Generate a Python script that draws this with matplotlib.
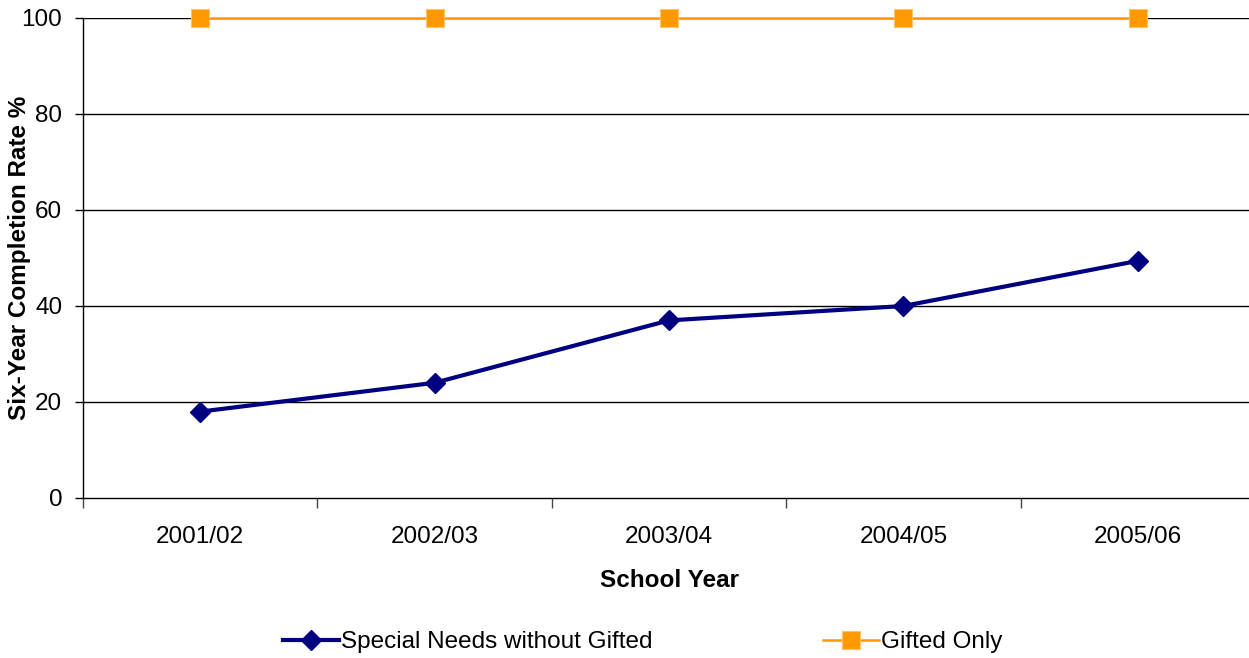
import matplotlib
matplotlib.use('Agg')
from matplotlib import pyplot as plt

plt.rcParams['font.family'] = ['Liberation Sans', 'DejaVu Sans']

##### DATA
years = ['2001/02', '2002/03', '2003/04', '2004/05', '2005/06']
special_needs = [18, 24, 37, 40, 49.4]
gifted_only = [100, 100, 100, 100, 100]
y_ticks = [0, 20, 40, 60, 80, 100]
##############

W, H = 1249, 658
FS = 17.5
fig = plt.figure(figsize=(W / 100, H / 100), dpi=100)
# plot area runs a bit past the right edge, like the original
ax = fig.add_axes([83 / W, 160 / H, 1172 / W, 480 / H])

x = list(range(len(years)))
ax.plot(x, special_needs, color='#000080', linewidth=3, marker='D', markersize=10,
        label='Special Needs without Gifted', zorder=4, clip_on=False)
ax.plot(x, gifted_only, color='#FF9900', linewidth=1.8, marker='s', markersize=13,
        markeredgecolor='#FFC266', markeredgewidth=0.8, label='Gifted Only', zorder=4,
        clip_on=False)

ax.set_xlim(-0.5, len(years) - 0.5)
ax.set_ylim(0, 100)
ax.set_yticks(y_ticks)
ax.set_xticks(x)
ax.set_xticklabels(years)
ax.set_xticks([i - 0.5 for i in range(len(years) + 1)], minor=True)
ax.tick_params(axis='x', which='major', length=0, pad=20, labelsize=FS)
ax.tick_params(axis='x', which='minor', length=7, color='#444444', width=1)
ax.tick_params(axis='y', length=6, width=1, labelsize=FS, pad=9)

for v in y_ticks[1:]:
    ax.axhline(v, color='black', linewidth=1, zorder=1)

for s in ['top', 'right']:
    ax.spines[s].set_visible(False)
ax.spines['left'].set_linewidth(1)
ax.spines['bottom'].set_linewidth(1)

ax.set_xlabel('School Year', fontsize=FS, fontweight='bold', labelpad=15)
ax.set_ylabel('Six-Year Completion Rate %', fontsize=FS, fontweight='bold')
ax.yaxis.set_label_coords((31 - 83) / 1172, 0.5)

fig.legend(loc='center', bbox_to_anchor=(643 / W, 1 - 642 / H), ncol=2, frameon=False,
           fontsize=FS, handlelength=2.3, handletextpad=0.1, columnspacing=7.0)

fig.savefig('out.png', dpi=100, facecolor='w')
